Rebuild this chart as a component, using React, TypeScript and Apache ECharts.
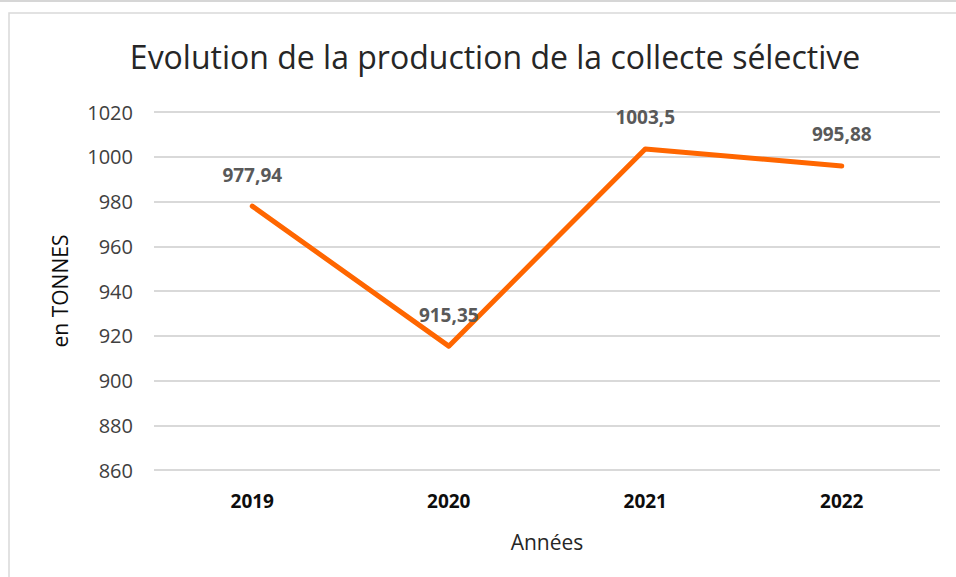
import React, { useEffect, useRef } from "react";
import * as echarts from "echarts";

const categories = ["2019", "2020", "2021", "2022"];
const values = [977.94, 915.35, 1003.5, 995.88];
const yMin = 860;
const yMax = 1020;
const yStep = 20;

export default function App() {
  const ref = useRef<HTMLDivElement>(null);
  useEffect(() => {
    document.body.style.margin = "0";
    const chart = echarts.init(ref.current!, null, { renderer: "svg" });
    const font = "'Open Sans', 'Liberation Sans', sans-serif";
    chart.setOption({
      animation: false,
      backgroundColor: "#ffffff",
      title: {
        text: "Evolution de la production de la collecte sélective",
        left: 490,
        top: 35,
        textAlign: "center",
        textStyle: { fontFamily: font, fontSize: 32, fontWeight: "normal", color: "#262626" },
      },
      graphic: [
        { type: "line", shape: { x1: 0, y1: 1, x2: 956, y2: 1 }, style: { stroke: "#c8c8c8", lineWidth: 1.5 } },
        { type: "rect", shape: { x: 9, y: 13, width: 980, height: 600 }, style: { fill: "none", stroke: "#d9d9d9", lineWidth: 1.5 } },
      ],
      grid: { left: 154, right: 16, top: 112, bottom: 107 },
      xAxis: {
        type: "category",
        data: categories,
        boundaryGap: true,
        name: "Années",
        nameLocation: "middle",
        nameGap: 61,
        nameTextStyle: { fontFamily: font, fontSize: 21, color: "#262626" },
        axisLine: { show: false },
        axisTick: { show: false },
        axisLabel: { fontFamily: font, fontSize: 19, fontWeight: "bold", color: "#0d0d0d", margin: 21 },
      },
      yAxis: {
        type: "value",
        min: yMin,
        max: yMax,
        interval: yStep,
        name: "en TONNES",
        nameLocation: "middle",
        nameGap: 84,
        nameRotate: 90,
        nameTextStyle: { fontFamily: font, fontSize: 21, color: "#0d0d0d" },
        axisLine: { show: false },
        axisTick: { show: false },
        axisLabel: {
          fontFamily: font,
          fontSize: 20,
          color: "#404040",
          margin: 21,
          formatter: (v: number) => String(v),
        },
        splitLine: { lineStyle: { color: "#d9d9d9", width: 2 } },
      },
      series: [
        {
          type: "line",
          data: values,
          symbol: "circle",
          symbolSize: 4,
          showSymbol: true,
          lineStyle: { color: "#ff6600", width: 5, cap: "round", join: "round" },
          itemStyle: { color: "#ff6600" },
          label: {
            show: true,
            position: "top",
            distance: 20,
            fontFamily: font,
            fontSize: 19,
            fontWeight: "bold",
            color: "#595959",
            formatter: (p: any) => String(p.value).replace(".", ","),
          },
        },
      ],
    });
    return () => chart.dispose();
  }, []);
  return <div ref={ref} style={{ position: "fixed", left: 0, top: 0, width: 956, height: 577 }} />;
}
